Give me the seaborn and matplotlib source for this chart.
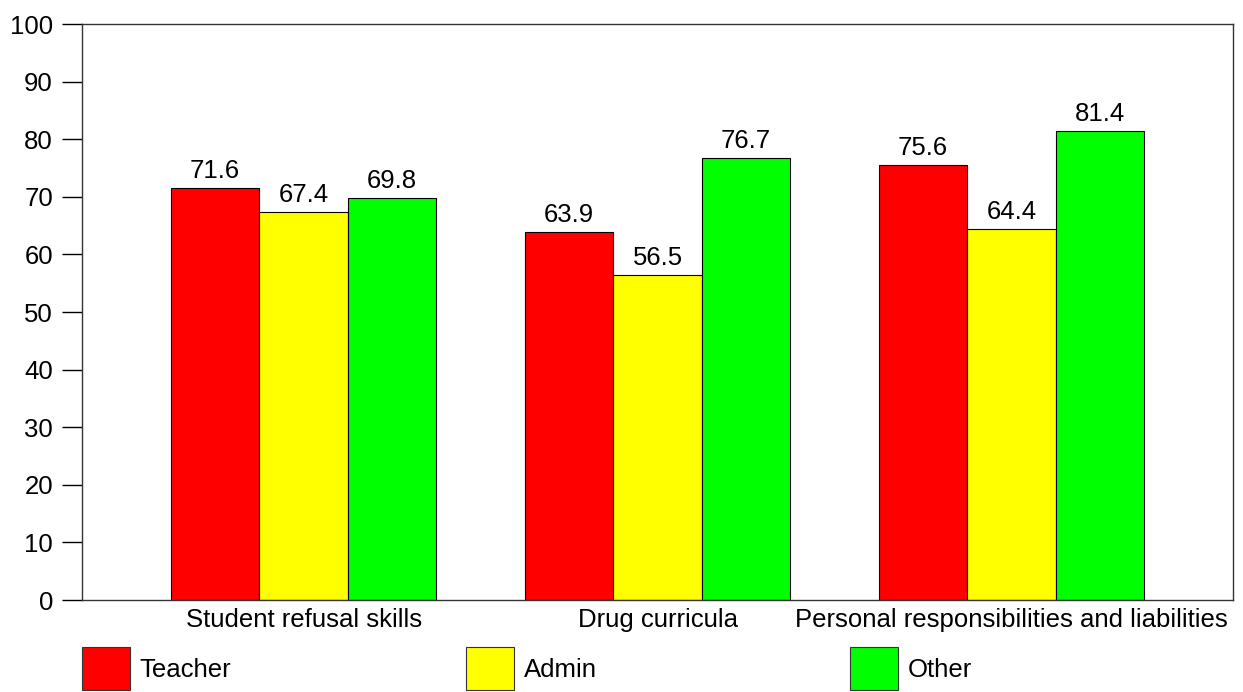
import numpy as np
import pandas as pd
import seaborn as sns
import matplotlib.pyplot as plt
from matplotlib.patches import Patch

categories = ["Student refusal skills", "Drug curricula", "Personal responsibilities and liabilities"]
groups = ["Teacher", "Admin", "Other"]
teacher = [71.6, 63.9, 75.6]
admin = [67.4, 56.5, 64.4]
other = [69.8, 76.7, 81.4]
colors = ["#ff0000", "#ffff00", "#00ff00"]

df = pd.DataFrame({
    "category": categories * 3,
    "group": [g for g in groups for _ in categories],
    "value": teacher + admin + other,
})

sns.set_style("white")
plt.rcParams["font.family"] = ["Liberation Sans", "DejaVu Sans"]
plt.rcParams["text.color"] = "black"
plt.rcParams["xtick.color"] = "black"
plt.rcParams["ytick.color"] = "black"
fs = 18.5

fig = plt.figure(figsize=(12.43, 6.92), dpi=100)
ax = fig.add_axes([82 / 1243, 92 / 692, 1151 / 1243, 576 / 692])

sns.barplot(data=df, x="category", y="value", hue="group", order=categories,
            hue_order=groups, palette=colors, width=0.75, saturation=1,
            edgecolor="black", linewidth=0.8, ax=ax, legend=False)

for cont in ax.containers:
    ax.bar_label(cont, fmt="%.1f", padding=3.5, fontsize=fs, color="black")

ax.set_xlim(-0.626, 2.626)
ax.set_ylim(0, 100)
ax.set_yticks(np.arange(0, 101, 10))
ax.set_xlabel("")
ax.set_ylabel("")
ax.tick_params(axis="y", which="both", left=True, length=14.4, width=1,
               color="black", pad=6.5, labelsize=fs)
ax.tick_params(axis="x", length=0, pad=6, labelsize=fs)
for s in ax.spines.values():
    s.set_visible(True)
    s.set_color("#333333")
    s.set_linewidth(1)

# one legend per entry so the patches sit at fixed spots
legend_x = [82, 466, 850]
for c, g, x in zip(colors, groups, legend_x):
    h = Patch(facecolor=c, edgecolor="#333333", linewidth=0.8)
    fig.legend([h], [g], loc="lower left", bbox_to_anchor=(x / 1243, 2 / 692),
               frameon=False, fontsize=fs, handlelength=1.87, handleheight=2.2,
               handletextpad=0.38, borderpad=0, borderaxespad=0)

fig.savefig("out.png", dpi=100)
